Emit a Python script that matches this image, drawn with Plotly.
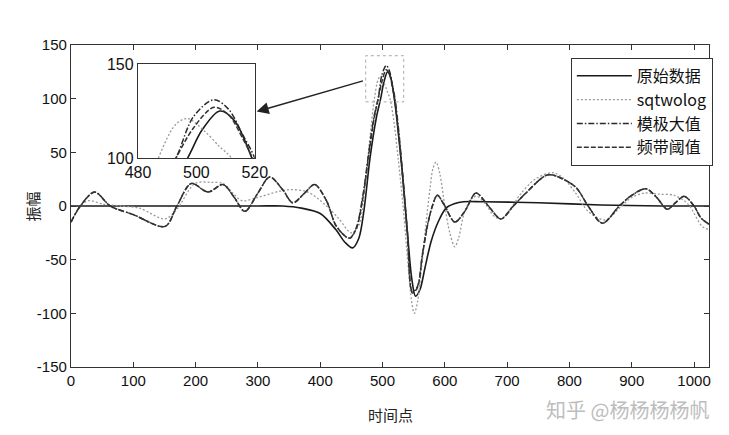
import plotly.graph_objects as go

# ---------------- data ----------------
x_orig = [0, 100, 200, 300, 340, 370, 400, 425, 440, 452, 462, 470, 480, 490, 497, 502, 508, 513, 519, 525,
          532, 540, 547, 553, 560, 568, 578, 590, 602, 615, 630, 660, 750, 850, 950, 1024]
y_orig = [0, 0, 0, 0, 0, -2, -7, -22, -34, -39, -30, -5, 45, 82, 100, 115, 125, 120, 100, 70,
          30, -25, -68, -84, -78, -58, -33, -14, -2, 2, 4, 4, 3, 1, 0, 0]

x_sqt = [0, 15, 28, 50, 80, 110, 151, 170, 199, 225, 244, 260, 274, 300, 346, 380, 410, 430, 450, 462,
         472, 480, 487, 493, 497, 503, 508, 512, 518, 525, 533, 541, 547, 551, 556, 563, 570, 576, 581, 586,
         592, 600, 608, 616, 622, 632, 645, 652, 665, 680, 690, 705, 720, 745, 773, 790, 810, 830, 858, 880,
         900, 920, 945, 968, 990, 1013, 1024]
y_sqt = [-15, 0, 5, 2, 0, -2, -12, -3, 21, 22, 21, 12, 5, 8, 15, 13, 0, -12, -25, -18,
         20, 65, 100, 118, 121, 114, 106, 100, 80, 45, 0, -55, -90, -100, -90, -55, -15, 15, 35, 41,
         30, 0, -25, -38, -30, -5, 8, 9, 2, -10, -12, -3, 10, 25, 31, 26, 12, -5, -13, -2,
         8, 12, 11, 10, 2, -19, -22]

x_mod = [0, 15, 38, 63, 100, 151, 170, 193, 220, 244, 262, 279, 300, 319, 340, 356, 375, 391, 410, 426,
         447, 458, 468, 478, 486, 493, 499, 506, 511, 516, 520, 526, 533, 540, 548, 556, 564, 572, 580, 588,
         600, 616, 632, 650, 670, 690, 710, 730, 765, 790, 811, 830, 853, 880, 900, 923, 940, 957, 970, 984,
         1000, 1011, 1024]
y_mod = [-15, 0, 13, 0, -8, -19, 0, 21, 13, 20, 8, -5, 12, 27, 15, 3, 12, 20, 5, -19,
         -30, -20, 8, 50, 82, 100, 122, 131, 126, 112, 100, 70, 25, -25, -80, -75, -45, -18, 0, 10,
         0, -15, -5, 12, 0, -12, 0, 12, 29, 25, 17, 0, -16, 0, 10, 16, 8, -3, 3, 9,
         0, -11, -17]

x_band = x_mod
y_band = [-15, 0, 13, 0, -8, -19, 0, 21, 13, 20, 8, -5, 12, 27, 15, 3, 12, 20, 5, -19,
          -30, -21, 6, 48, 80, 100, 116, 127, 123, 110, 97, 66, 22, -27, -81, -76, -46, -19, 0, 10,
          0, -15, -5, 12, 0, -12, 0, 12, 29, 25, 17, 0, -16, 0, 10, 16, 8, -3, 3, 9,
          0, -11, -17]

series = [
    ("原始数据", x_orig, y_orig, "solid", "#1a1a1a", 1.6),
    ("sqtwolog", x_sqt, y_sqt, "2px,2px", "#9a9a9a", 1.3),
    ("模极大值", x_mod, y_mod, "6px,2px,1.5px,2px", "#2a2a2a", 1.5),
    ("频带阈值", x_band, y_band, "5px,2px", "#333333", 1.5),
]

x_ticks = list(range(0, 1001, 100))
x_ticktext = [str(v) for v in x_ticks]
y_ticks = list(range(-150, 151, 50))
y_ticktext = ["-150", "-100", "-50", "0", "50", "100", "150"]
inset_x_ticks = [480, 500, 520]
inset_y_ticks = [100, 150]

NUM_FONT = "Liberation Sans Narrow, Arial Narrow, Liberation Sans, Arial"
CJK_FONT = "Noto Sans CJK SC"

fig = go.Figure()
for name, xs, ys, dash, color, w in series:
    fig.add_trace(go.Scatter(x=xs, y=ys, mode="lines", name=name,
                             line=dict(color=color, width=w, dash=dash, shape="spline", smoothing=0.9),
                             xaxis="x", yaxis="y"))
for name, xs, ys, dash, color, w in series:
    fig.add_trace(go.Scatter(x=xs, y=ys, mode="lines", name=name, showlegend=False,
                             line=dict(color=color, width=w, dash=dash, shape="spline", smoothing=0.9),
                             xaxis="x2", yaxis="y2"))

axis_common = dict(showline=True, linecolor="#333", linewidth=1.3, mirror="ticks",
                   ticks="inside", ticklen=5, tickcolor="#333", showgrid=False, zeroline=False,
                   tickfont=dict(family=NUM_FONT, size=15, color="#111"))

# the page body adds an 8px offset, so margins/size are compensated
fig.update_layout(
    width=721, height=427,
    margin=dict(l=63, r=20, t=37, b=68, autoexpand=False),
    paper_bgcolor="white", plot_bgcolor="white",
    xaxis=dict(range=[0, 1024], tickvals=x_ticks, ticktext=x_ticktext, domain=[0, 1], **axis_common),
    yaxis=dict(range=[-150, 150], tickvals=y_ticks, ticktext=y_ticktext, domain=[0, 1], **axis_common),
    xaxis2=dict(range=[480, 520], tickvals=inset_x_ticks, domain=[0.105, 0.288], anchor="y2",
                showline=True, linecolor="#333", linewidth=1.3, mirror=True, ticks="",
                showgrid=False, zeroline=False,
                tickfont=dict(family=NUM_FONT, size=16, color="#111")),
    yaxis2=dict(range=[100, 150], tickvals=inset_y_ticks, domain=[0.649, 0.941], anchor="x2",
                showline=True, linecolor="#333", linewidth=1.3, mirror=True, ticks="",
                showgrid=False, zeroline=False,
                tickfont=dict(family=NUM_FONT, size=16, color="#111")),
    legend=dict(x=1.006, y=0.96, xanchor="right", yanchor="top",
                bgcolor="white", bordercolor="#333", borderwidth=1,
                font=dict(family=CJK_FONT, size=16, color="#111"),
                tracegroupgap=0, itemwidth=55),
    showlegend=True,
)

# zoom box around the peak
fig.add_shape(type="rect", xref="x", yref="y", x0=473, x1=534, y0=97, y1=140,
              line=dict(color="#aaa", width=1, dash="dot"))
# arrow from zoom box to inset
fig.add_annotation(x=298, y=88, ax=471, ay=117, xref="x", yref="y", axref="x", ayref="y",
                   showarrow=True, arrowhead=2, arrowsize=1.6, arrowwidth=1.5, arrowcolor="#222", text="")

# axis titles
fig.add_annotation(text="时间点", x=0.5, y=-0.11, xref="paper", yref="paper", showarrow=False,
                   xanchor="center", yanchor="top", font=dict(family=CJK_FONT, size=15, color="#222"))
fig.add_annotation(text="振幅", x=-0.08, y=0.5, xref="paper", yref="paper", showarrow=False,
                   textangle=-90, font=dict(family=CJK_FONT, size=15, color="#222"))
# watermark
fig.add_annotation(text="知乎 @杨杨杨杨帆", x=0.873, y=-0.082, xref="paper", yref="paper", showarrow=False,
                   xanchor="center", yanchor="top",
                   font=dict(family=CJK_FONT, size=20, color="#bdbdbd"))

fig.write_html("out.html")
